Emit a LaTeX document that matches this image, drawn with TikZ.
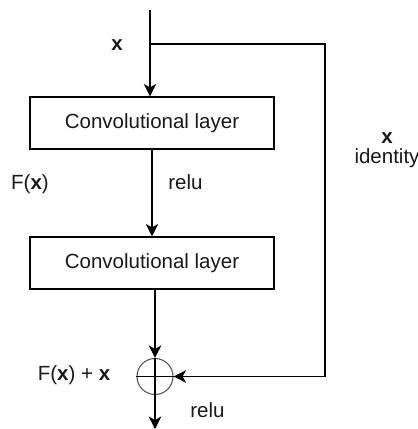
\documentclass[tikz,border=0pt]{standalone}
\usepackage{fontspec}
\setmainfont{Liberation Sans}
\usetikzlibrary{arrows.meta}
\begin{document}
\begin{tikzpicture}[x=1pt,y=-1pt,
  every node/.style={font=\fontsize{20.5}{24}\selectfont, inner sep=0pt, text=black!90},
  lbl/.style={anchor=base},
  layer/.style={draw, line width=1.2pt, minimum width=244pt, minimum height=52pt},
  conn/.style={line width=1.2pt, -{Stealth[length=12.5pt,width=12.5pt,inset=3.5pt]}},
  wire/.style={line width=1.2pt}]
\useasboundingbox (0,0) rectangle (418,429);
% nodes
\node[layer] (conv1) at (152,123) {Convolutional layer};
\node[layer] (conv2) at (152,263) {Convolutional layer};
\node[circle, draw, line width=1.1pt, draw=black!65, minimum size=36pt] (sum) at (155,376.5) {};
\draw[line width=1.1pt] (sum.north) -- (sum.south);
\draw[line width=1.1pt] (sum.west) -- (sum.east);
\coordinate (in) at (150,10);
\coordinate (split) at (150,44);
\coordinate (corner1) at (325,44);
\coordinate (corner2) at (325,376.5);
\coordinate (out) at (155,429);
% connectors
\draw[conn] (in) -- (in |- conv1.north);
\draw[wire] (split) -- (corner1) -- (corner2);
\draw[conn] (corner2) -- (sum.east);
\draw[conn] (conv1.south) -- (conv2.north);
\draw[conn] (conv2.south -| sum.north) -- (sum.north);
\draw[conn] (sum.south) -- (out);
% labels
\node[lbl] (lx) at (117,50.5) {\textbf{x}};
\node[lbl] (lfx) at (30,189.5) {F(\textbf{x})};
\node[lbl] (lrelu1) at (185.5,189.5) {relu};
\node[lbl] (lsum) at (74,380.5) {F(\textbf{x}) + \textbf{x}};
\node[lbl] (lrelu2) at (207.5,417.5) {relu};
\node[lbl] (lidx) at (387,143) {\textbf{x}};
\node[lbl] (lid) at (387,163.5) {identity};
\end{tikzpicture}
\end{document}
